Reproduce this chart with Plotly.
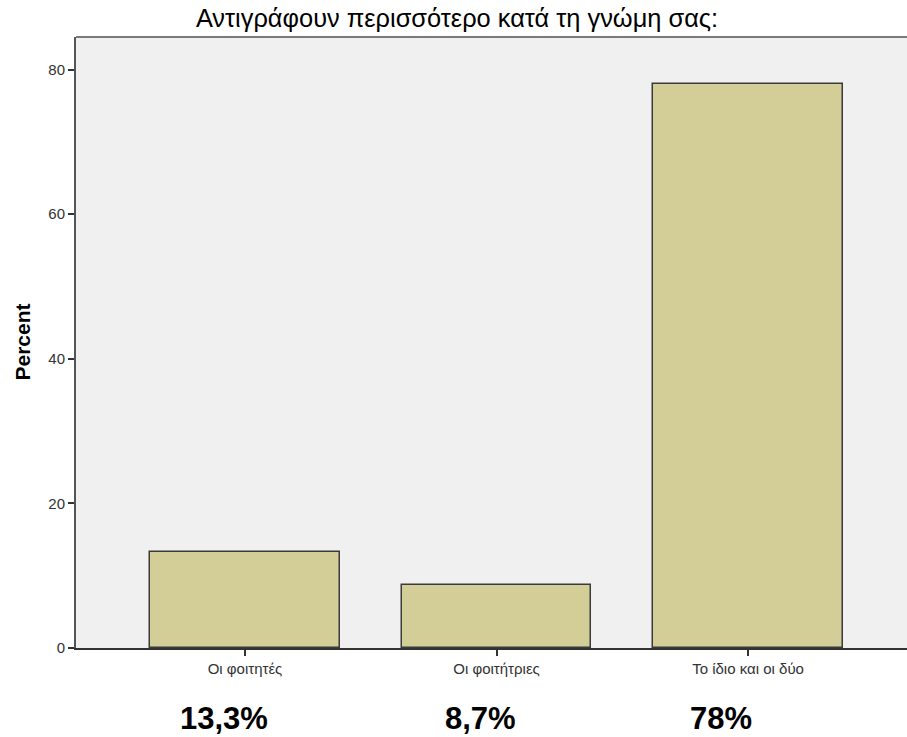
import plotly.graph_objects as go

categories = ["Οι φοιτητές", "Οι φοιτήτριες", "Το ίδιο και οι δύο"]
percent_values = [13.3, 8.7, 78.0]
percent_labels = ["13,3%", "8,7%", "78%"]
y_ticks = [0, 20, 40, 60, 80]
title_text = "Αντιγράφουν περισσότερο κατά τη γνώμη σας:"
y_title = "Percent"

FONT = "Liberation Sans, Arial, sans-serif"

fig = go.Figure()
fig.add_trace(go.Bar(
    x=categories,
    y=percent_values,
    width=0.755,
    marker=dict(color="#D3CE97", line=dict(color="#3a3a3a", width=1.5)),
    hoverinfo="x+y",
))

label_shifts = [-21, -16, -27]
for cat, lab, sh in zip(categories, percent_labels, label_shifts):
    fig.add_annotation(
        x=cat, xref="x", y=0, yref="paper", yanchor="middle",
        yshift=-70, xshift=sh, showarrow=False,
        text="<b>" + lab + "</b>",
        font=dict(family=FONT, size=31, color="#000000"),
    )

fig.add_annotation(
    x=0, xref="paper", y=0.5, yref="paper", xshift=-54,
    textangle=-90, showarrow=False, xanchor="center", yanchor="middle",
    text="<b>" + y_title + "</b>",
    font=dict(family=FONT, size=21, color="#000000"),
)

fig.add_shape(type="line", xref="paper", yref="paper", x0=0, x1=1, y0=1, y1=1,
              line=dict(color="#7a7a7a", width=2))

fig.update_layout(
    width=907, height=737,
    autosize=False,
    margin=dict(l=76, r=0, t=37, b=89, pad=0, autoexpand=False),
    paper_bgcolor="white",
    plot_bgcolor="#F0F0F0",
    showlegend=False,
    bargap=0,
    title=dict(text=title_text, x=457 / 907, xanchor="center", xref="container",
               y=1 - 18 / 737, yanchor="middle", yref="container",
               font=dict(family=FONT, size=25.4, color="#000000")),
    xaxis=dict(
        type="category",
        range=[-0.672, 2.632],
        showgrid=False, zeroline=False,
        showline=True, linecolor="#333333", linewidth=2,
        ticks="outside", ticklen=6, tickwidth=2, tickcolor="#333333",
        tickfont=dict(family=FONT, size=15, color="#333333"),
        fixedrange=True, automargin=False,
    ),
    yaxis=dict(
        range=[0, 84.5],
        tickvals=y_ticks,
        showgrid=False, zeroline=False,
        showline=True, linecolor="#555555", linewidth=2,
        ticks="outside", ticklen=6, tickwidth=2, tickcolor="#333333",
        tickfont=dict(family=FONT, size=15, color="#333333"),
        fixedrange=True, automargin=False,
    ),
)

fig.write_html(
    "out.html",
    config={"displayModeBar": False, "responsive": False},
    post_script=(
        "document.documentElement.style.overflow='hidden';"
        "document.body.style.margin='0';document.body.style.overflow='hidden';"
    ),
)
